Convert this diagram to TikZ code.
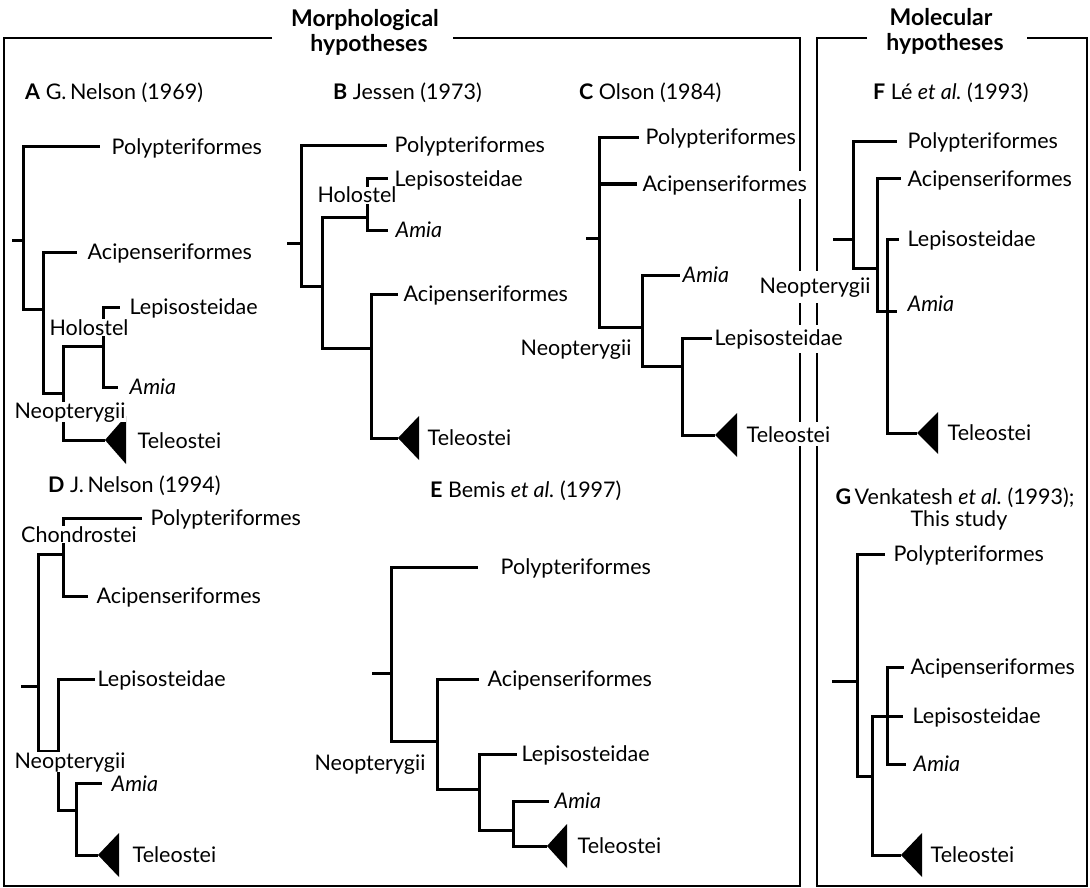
\documentclass[tikz,border=0pt]{standalone}
\usepackage{fontspec}
\setmainfont{Lato}
\frenchspacing
\newcommand\cladefont{\fontsize{21.5}{25}\selectfont}
\newcommand\headfont{\fontsize{23}{27}\selectfont\bfseries}
\begin{document}
\begin{tikzpicture}[x=1pt,y=-1pt]
\tikzset{
  br/.style={line width=3pt, line join=miter},
  frame/.style={line width=2.6pt},
  lab/.style={anchor=base west, font=\cladefont, fill=white, inner xsep=0.5pt, inner ysep=4pt},
  ilab/.style={anchor=base, font=\cladefont, fill=white, inner sep=0.5pt},
  wlab/.style={anchor=base, font=\cladefont, fill=white, inner xsep=0.5pt, inner ysep=6pt},
  ttl/.style={anchor=base west, font=\cladefont, inner sep=0pt},
  ctl/.style={anchor=base, font=\cladefont, inner sep=0pt},
  head/.style={anchor=base, font=\headfont, inner sep=0pt},
  tele/.style={fill=black}
}
\useasboundingbox (0,0) rectangle (1090,888);

% ---------- frames ----------
\draw[frame] (272,38) -- (4,38) -- (4,886) -- (800,886) -- (800,38) -- (453,38);
\draw[frame] (867,38) -- (817,38) -- (817,886) -- (1087,886) -- (1087,38) -- (1027,38);
\node[head] (morph1) at (365,27) {Morphological};
\node[head] (morph2) at (369,52) {hypotheses};
\node[head] (mol1) at (941,26) {Molecular};
\node[head] (mol2) at (945,51) {hypotheses};

% ---------- A: G. Nelson (1969) ----------
\coordinate (Ar) at (12,240);  \coordinate (A1) at (23,240);
\coordinate (A2) at (43,309);  \coordinate (A3) at (63,393);
\coordinate (A4) at (103,346);
\coordinate (Apol) at (100,147); \coordinate (Aaci) at (77,252);
\coordinate (Alep) at (120,307); \coordinate (Aami) at (118,387);
\coordinate (Atel) at (105,440);
\draw[br] (Ar) -- (A1);
\draw[br] (A1) |- (Apol);  \draw[br] (A1) |- (A2);
\draw[br] (A2) |- (Aaci);  \draw[br] (A2) |- (A3);
\draw[br] (A3) |- (A4);    \draw[br] (A3) |- (Atel);
\draw[br] (A4) |- (Alep);  \draw[br] (A4) |- (Aami);
\fill[tele] (Atel) -- ++(21,-24) -- ++(0,48) -- cycle;
\node[ttl] (Atitle) at (25,100) {\textbf{A} G.\,Nelson (1969)};
\node[lab] (Apol-l) at (111,154) {Polypteriformes};
\node[lab] (Aaci-l) at (87,259) {Acipenseriformes};
\node[lab] (Alep-l) at (129,314) {Lepisosteidae};
\node[lab] (Aami-l) at (129,394) {\itshape Amia};
\node[lab] (Atel-l) at (137,448) {Teleostei};
\node[ilab] (Aholo) at (89,335) {Holostel};
\node[ilab] (Aneo) at (70,418) {Neopterygii};

% ---------- B: Jessen (1973) ----------
\coordinate (Br) at (287,243); \coordinate (B1) at (301,243);
\coordinate (B2) at (322,286); \coordinate (B3) at (367,217);
\coordinate (B4) at (371,348);
\coordinate (Bpol) at (387,146); \coordinate (Blep) at (388,179);
\coordinate (Bami) at (388,230); \coordinate (Baci) at (398,294);
\coordinate (Btel) at (398,438);
\draw[br] (Br) -- (B1);
\draw[br] (B1) |- (Bpol);  \draw[br] (B1) |- (B2);
\draw[br] (B2) |- (B3);    \draw[br] (B2) |- (B4);
\draw[br] (B3) |- (Blep);  \draw[br] (B3) |- (Bami);
\draw[br] (B4) |- (Baci);  \draw[br] (B4) |- (Btel);
\fill[tele] (Btel) -- ++(21,-22) -- ++(0,44) -- cycle;
\node[ttl] (Btitle) at (333,100) {\textbf{B} Jessen (1973)};
\node[lab] (Bpol-l) at (394,153) {Polypteriformes};
\node[lab] (Blep-l) at (394,186) {Lepisosteidae};
\node[lab] (Bami-l) at (395,237) {\itshape Amia};
\node[lab] (Baci-l) at (403,301) {Acipenseriformes};
\node[lab] (Btel-l) at (427,445) {Teleostei};
\node[ilab] (Bholo) at (357,203) {Holostel};

% ---------- C: Olson (1984) ----------
\coordinate (Cr) at (586,238); \coordinate (C1) at (599,238);
\coordinate (C2) at (642,327); \coordinate (C3) at (682,366);
\coordinate (Cpol) at (639,138); \coordinate (Caci) at (637,184);
\coordinate (Cami) at (680,275); \coordinate (Clep) at (712,338);
\coordinate (Ctel) at (715,435);
\draw[br] (Cr) -- (C1);
\draw[br] (C1) |- (Cpol);  \draw[br] (C1) |- (Caci);  \draw[br] (C1) |- (C2);
\draw[br] (C2) |- (Cami);  \draw[br] (C2) |- (C3);
\draw[br] (C3) |- (Clep);  \draw[br] (C3) |- (Ctel);
\fill[tele] (Ctel) -- ++(22,-22) -- ++(0,44) -- cycle;
\node[ttl] (Ctitle) at (579,100) {\textbf{C} Olson (1984)};
\node[lab] (Cpol-l) at (645,145) {Polypteriformes};
\node[lab] (Caci-l) at (642,191) {Acipenseriformes};
\node[lab] (Cami-l) at (682,282) {\itshape Amia};
\node[lab] (Clep-l) at (714,345) {Lepisosteidae};
\node[lab] (Ctel-l) at (746,442) {Teleostei};
\node[ilab] (Cneo) at (576,355) {Neopterygii};

% ---------- D: J. Nelson (1994) ----------
\coordinate (Dr) at (21,686);  \coordinate (D1) at (38,686);
\coordinate (D2) at (63,554);  \coordinate (D3) at (58,751);
\coordinate (D4) at (76,810);
\coordinate (Dpol) at (142,518); \coordinate (Daci) at (88,596);
\coordinate (Dlep) at (95,679);  \coordinate (Dami) at (102,783);
\coordinate (Dtel) at (98,855);
\draw[br] (Dr) -- (D1);
\draw[br] (D1) |- (D2);    \draw[br] (D1) |- (D3);
\draw[br] (D2) |- (Dpol);  \draw[br] (D2) |- (Daci);
\draw[br] (D3) |- (Dlep);  \draw[br] (D3) |- (D4);
\draw[br] (D4) |- (Dami);  \draw[br] (D4) |- (Dtel);
\fill[tele] (Dtel) -- ++(21,-22) -- ++(0,44) -- cycle;
\node[ttl] (Dtitle) at (48,492) {\textbf{D} J.\,Nelson (1994)};
\node[lab] (Dpol-l) at (150,525) {Polypteriformes};
\node[lab] (Daci-l) at (96,603) {Acipenseriformes};
\node[lab] (Dlep-l) at (97,686) {Lepisosteidae};
\node[lab] (Dami-l) at (111,791) {\itshape Amia};
\node[lab] (Dtel-l) at (132,862) {Teleostei};
\node[ilab] (Dchon) at (79,542) {Chondrostei};
\node[ilab] (Dneo) at (70,768) {Neopterygii};

% ---------- E: Bemis et al. (1997) ----------
\coordinate (Er) at (372,673); \coordinate (E1) at (391,673);
\coordinate (E2) at (437,741); \coordinate (E3) at (479,789);
\coordinate (E4) at (513,830);
\coordinate (Epol) at (478,567); \coordinate (Eaci) at (479,679);
\coordinate (Elep) at (517,754); \coordinate (Eami) at (549,801);
\coordinate (Etel) at (547,846);
\draw[br] (Er) -- (E1);
\draw[br] (E1) |- (Epol);  \draw[br] (E1) |- (E2);
\draw[br] (E2) |- (Eaci);  \draw[br] (E2) |- (E3);
\draw[br] (E3) |- (Elep);  \draw[br] (E3) |- (E4);
\draw[br] (E4) |- (Eami);  \draw[br] (E4) |- (Etel);
\fill[tele] (Etel) -- ++(20,-22) -- ++(0,44) -- cycle;
\node[ttl] (Etitle) at (430,497) {\textbf{E} Bemis \textit{et al.} (1997)};
\node[lab] (Epol-l) at (500,574) {Polypteriformes};
\node[lab] (Eaci-l) at (487,686) {Acipenseriformes};
\node[lab] (Elep-l) at (521,761) {Lepisosteidae};
\node[lab] (Eami-l) at (554,808) {\itshape Amia};
\node[lab] (Etel-l) at (577,853) {Teleostei};
\node[ilab] (Eneo) at (370,770) {Neopterygii};

% ---------- F: Le et al. (1993) ----------
\coordinate (Fr) at (833,239); \coordinate (F1) at (853,239);
\coordinate (F2) at (877,268); \coordinate (F3) at (887,311);
\coordinate (Fpol) at (897,142); \coordinate (Faci) at (901,179);
\coordinate (Fami) at (897,311); \coordinate (Flep) at (899,239);
\coordinate (Ftel) at (917,433);
\draw[br] (Fr) -- (F1);
\draw[br] (F1) |- (Fpol);  \draw[br] (F1) |- (F2);
\draw[br] (F2) |- (Faci);  \draw[br] (F2) |- (Fami);
\draw[br] (F3) |- (Flep);  \draw[br] (F3) |- (Ftel);
\fill[tele] (Ftel) -- ++(21,-21) -- ++(0,42) -- cycle;
\node[ttl] (Ftitle) at (873,100) {\textbf{F} Lé \textit{et al.} (1993)};
\node[lab] (Fpol-l) at (907,149) {Polypteriformes};
\node[lab] (Faci-l) at (907,186) {Acipenseriformes};
\node[lab] (Flep-l) at (907,246) {Lepisosteidae};
\node[lab] (Fami-l) at (907,311) {\itshape Amia};
\node[lab] (Ftel-l) at (947,440) {Teleostei};
\node[wlab] (Fneo) at (815,293) {Neopterygii};

% ---------- G: Venkatesh et al. (1993); this study ----------
\coordinate (Gr) at (832,681); \coordinate (G1) at (857,681);
\coordinate (G2) at (872,776); \coordinate (G3) at (887,716);
\coordinate (Gpol) at (885,554); \coordinate (Gaci) at (904,667);
\coordinate (Glep) at (903,716); \coordinate (Gami) at (906,764);
\coordinate (Gtel) at (901,855);
\draw[br] (Gr) -- (G1);
\draw[br] (G1) |- (Gpol);  \draw[br] (G1) |- (G2);
\draw[br] (G2) |- (Glep);  \draw[br] (G2) |- (Gtel);
\draw[br] (G3) |- (Gaci);  \draw[br] (G3) |- (Gami);
\fill[tele] (Gtel) -- ++(21,-22) -- ++(0,44) -- cycle;
\node[ctl] (Gtitle1) at (955,504) {\textbf{G}\,Venkatesh \textit{et al.} (1993);};
\node[ctl] (Gtitle2) at (959,526) {This study};
\node[lab] (Gpol-l) at (893,561) {Polypteriformes};
\node[lab] (Gaci-l) at (910,674) {Acipenseriformes};
\node[lab] (Glep-l) at (912,723) {Lepisosteidae};
\node[lab] (Gami-l) at (913,771) {\itshape Amia};
\node[lab] (Gtel-l) at (930,862) {Teleostei};
\end{tikzpicture}
\end{document}
